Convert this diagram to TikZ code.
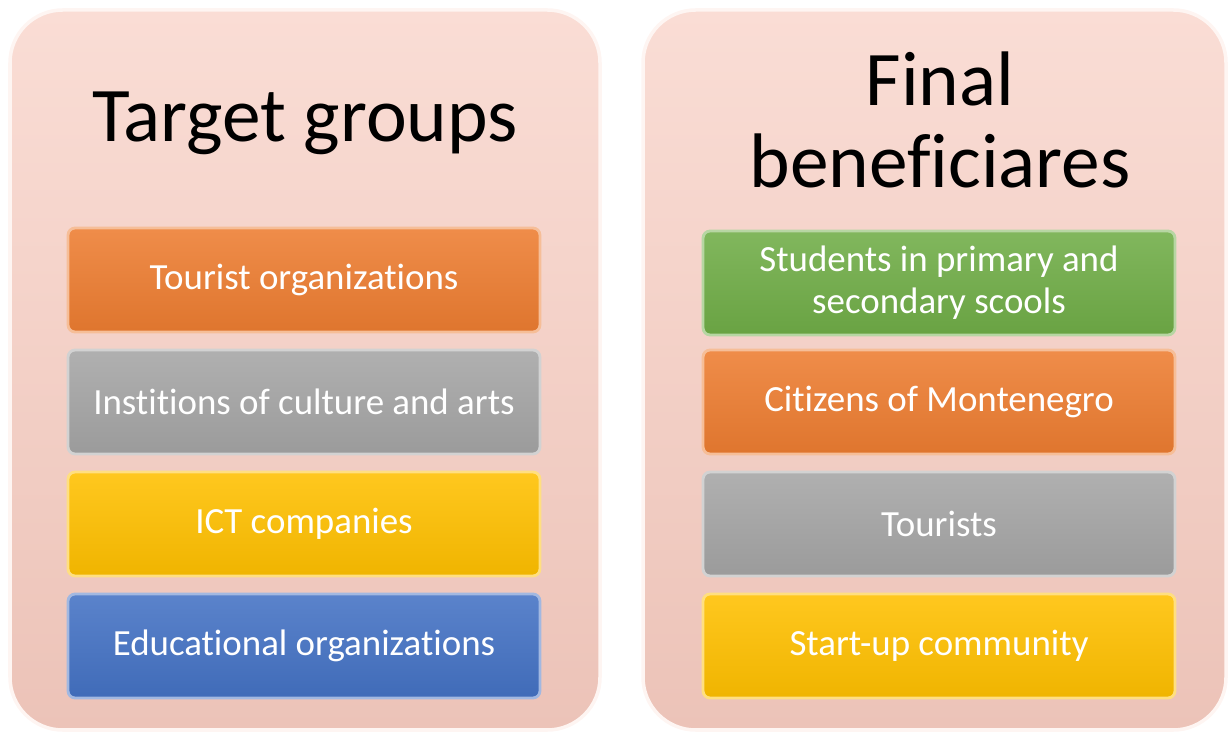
\documentclass[tikz,border=0pt]{standalone}
\usepackage{fontspec}
\setmainfont{Carlito}[Ligatures=NoCommon]
\usepackage{xcolor}
\usepackage{tikz}
\usetikzlibrary{positioning}

\definecolor{panelTop}{HTML}{FADDD5}
\definecolor{panelBot}{HTML}{ECC3B8}
\definecolor{offOrange}{HTML}{ED7D31}
\definecolor{offGray}{HTML}{A5A5A5}
\definecolor{offYellow}{HTML}{FFC000}
\definecolor{offBlue}{HTML}{4472C4}
\definecolor{offGreen}{HTML}{70AD47}

\tikzset{
  panel/.style={rounded corners=30pt, top color=panelTop, bottom color=panelBot, draw=white!70!panelTop, line width=2pt},
  title/.style={font=\fontsize{44}{47}\selectfont, align=center, text=black},
  groupbox/.style={rounded corners=4pt, minimum width=9.44cm, minimum height=2.08cm,
    top color=#1!88!white, bottom color=#1!94!black, draw=#1!50!white, line width=1.6pt,
    text=white, font=\fontsize{21}{24}\selectfont, align=center, inner sep=2pt}
}

\begin{document}
\begin{tikzpicture}[x=0.02cm, y=-0.02cm]
\useasboundingbox (0,0) rectangle (1229,732);
% two panels
\path[panel] (10,10) rectangle (600,730);
\path[panel] (643,10) rectangle (1226,730);
% left panel
\node[title] (tgTitle) at (305,123) {Target groups};
\node[groupbox=offOrange] (tgTourist) at (304,280) {\raisebox{-2pt}{Tourist organizations}};
\node[groupbox=offGray] (tgCulture) at (304,402) {\raisebox{-2pt}{Institions of culture and arts}};
\node[groupbox=offYellow] (tgICT) at (304,524) {\raisebox{-2pt}{ICT companies}};
\node[groupbox=offBlue] (tgEdu) at (304,646) {\raisebox{-2pt}{Educational organizations}};
% right panel
\node[title] (fbTitle) at (940,120) {Final\\beneficiares};
\node[groupbox=offGreen] (fbStudents) at (939,283) {Students in primary and\\secondary scools};
\node[groupbox=offOrange] (fbCitizens) at (939,402) {\raisebox{-2pt}{Citizens of Montenegro}};
\node[groupbox=offGray] (fbTourists) at (939,524) {\raisebox{-2pt}{Tourists}};
\node[groupbox=offYellow] (fbStartup) at (939,646) {\raisebox{-2pt}{Start-up community}};
\end{tikzpicture}
\end{document}
